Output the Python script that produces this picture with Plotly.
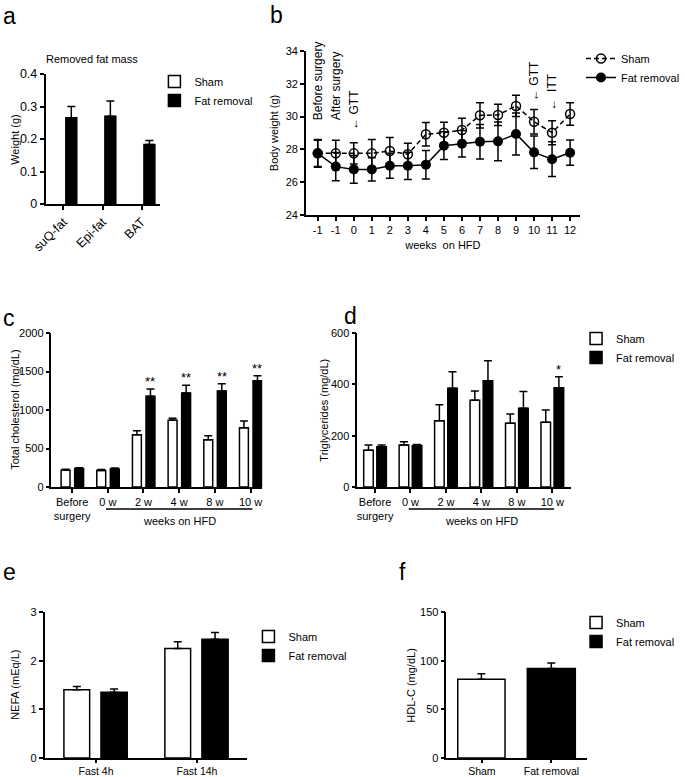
import plotly.graph_objects as go

W, H = 685, 777
FONT = "Liberation Sans, Arial, sans-serif"

# ---------------- data ----------------
# (a) removed fat mass
a_cats = ["suQ-fat", "Epi-fat", "BAT"]
a_sham = [None, None, None]
a_fat = [0.265, 0.27, 0.183]
a_fat_err = [0.035, 0.047, 0.012]

# (b) body weight
b_labels = ["-1", "-1", "0", "1", "2", "3", "4", "5", "6", "7", "8", "9", "10", "11", "12"]
b_sham = [27.76, 27.76, 27.76, 27.76, 27.9, 27.7, 28.92, 29.02, 29.18, 30.08, 30.1, 30.65, 29.69, 29.02, 30.16]
b_sham_err = [0.85, 0.8, 0.65, 0.85, 0.82, 0.67, 0.72, 0.63, 0.72, 0.77, 0.65, 0.65, 0.75, 0.73, 0.69]
b_fat = [27.76, 26.95, 26.78, 26.78, 27.0, 27.0, 27.07, 28.23, 28.35, 28.47, 28.49, 28.94, 27.82, 27.4, 27.8]
b_fat_err = [0.8, 0.86, 0.85, 0.71, 0.76, 0.83, 0.87, 0.84, 0.81, 1.05, 1.18, 1.28, 0.99, 1.06, 0.77]
b_events = [("Before surgery", 0), ("After surgery", 1), ("\u2190 GTT", 2), ("\u2190 GTT", 12), ("\u2190  ITT", 13)]

# (c) total cholesterol
cd_cats = ["Before<br>surgery", "0 w", "2 w", "4 w", "8 w", "10 w"]
c_sham = [218, 215, 680, 866, 615, 771]
c_sham_err = [12, 12, 52, 26, 52, 86]
c_fat = [240, 235, 1177, 1221, 1247, 1381]
c_fat_err = [10, 12, 96, 99, 95, 65]
c_stars = ["", "", "**", "**", "**", "**"]

# (d) triglycerides
d_sham = [143, 164, 258, 338, 248, 252]
d_sham_err = [21, 12, 62, 36, 36, 48]
d_fat = [157, 162, 385, 414, 307, 387]
d_fat_err = [7, 4, 64, 78, 65, 43]
d_stars = ["", "", "", "", "", "*"]

# (e) NEFA
e_cats = ["Fast 4h", "Fast 14h"]
e_sham = [1.40, 2.25]
e_sham_err = [0.07, 0.14]
e_fat = [1.35, 2.44]
e_fat_err = [0.07, 0.14]

# (f) HDL-C
f_cats = ["Sham", "Fat removal"]
f_vals = [80.8, 92.0]
f_errs = [5.8, 5.5]

SERIES = ["Sham", "Fat removal"]


# ---------------- helpers ----------------
def px(x):
    return x / W


def py(y):
    return 1 - y / H


def xdom(l, r):
    return [px(l), px(r)]


def ydom(t, b):
    return [py(b), py(t)]


def err(arr):
    return dict(type="data", array=arr, arrayminus=[0] * len(arr), symmetric=False,
                color="black", thickness=1.5, width=4)


def bar(name, x, y, e, fill, xa, ya, offset, width, legend, showlegend=True):
    return go.Bar(name=name, x=x, y=y, error_y=err(e) if e is not None else None,
                  marker=dict(color=fill, line=dict(color="black", width=1.5)),
                  xaxis=xa, yaxis=ya, offset=offset, width=width,
                  legend=legend, showlegend=showlegend)


fig = go.Figure()

# (a)
fig.add_trace(bar(SERIES[0], a_cats, a_sham, None, "white", "x", "y", -0.34, 0.28, "legend"))
fig.add_trace(bar(SERIES[1], a_cats, a_fat, a_fat_err, "black", "x", "y", 0.06, 0.28, "legend"))

# (b)
bx = list(range(len(b_labels)))
fig.add_trace(go.Scatter(name=SERIES[0], x=bx, y=b_sham, mode="lines+markers",
                         line=dict(color="black", width=1.5, dash="5px,3px"),
                         marker=dict(symbol="circle-open", size=9, color="black", line=dict(width=1.5)),
                         error_y=dict(type="data", array=b_sham_err, color="black", thickness=1.5, width=4),
                         xaxis="x2", yaxis="y2", legend="legend5"))
fig.add_trace(go.Scatter(name=SERIES[1], x=bx, y=b_fat, mode="lines+markers",
                         line=dict(color="black", width=1.5),
                         marker=dict(symbol="circle", size=10, color="black"),
                         error_y=dict(type="data", array=b_fat_err, color="black", thickness=1.5, width=4),
                         xaxis="x2", yaxis="y2", legend="legend5"))

# (c)
fig.add_trace(bar(SERIES[0], cd_cats, c_sham, c_sham_err, "white", "x3", "y3", -0.31, 0.25, "legend", False))
fig.add_trace(bar(SERIES[1], cd_cats, c_fat, c_fat_err, "black", "x3", "y3", 0.07, 0.25, "legend", False))

# (d)
fig.add_trace(bar(SERIES[0], cd_cats, d_sham, d_sham_err, "white", "x4", "y4", -0.32, 0.27, "legend2"))
fig.add_trace(bar(SERIES[1], cd_cats, d_fat, d_fat_err, "black", "x4", "y4", 0.05, 0.27, "legend2"))

# (e)
fig.add_trace(bar(SERIES[0], e_cats, e_sham, e_sham_err, "white", "x5", "y5", -0.318, 0.255, "legend3"))
fig.add_trace(bar(SERIES[1], e_cats, e_fat, e_fat_err, "black", "x5", "y5", 0.049, 0.26, "legend3"))

# (f)
fig.add_trace(bar(SERIES[0], [f_cats[0]], [f_vals[0]], [f_errs[0]], "white", "x6", "y6", -0.347, 0.68, "legend4"))
fig.add_trace(bar(SERIES[1], [f_cats[1]], [f_vals[1]], [f_errs[1]], "black", "x6", "y6", -0.347, 0.69, "legend4"))

# ---------------- axes ----------------
common = dict(showline=True, linecolor="black", linewidth=1.5, ticks="outside", ticklen=4,
              tickwidth=1.5, tickcolor="black", showgrid=False, zeroline=False, automargin=False,
              tickfont=dict(size=11, color="black", family=FONT))
bigtick = dict(size=12.5, color="black", family=FONT)
smalltick = dict(size=10.5, color="black", family=FONT)

layout = dict(
    xaxis=dict(common, domain=xdom(46, 162), type="category", range=[-0.46, 2.48], tickangle=-45,
               anchor="y", tickfont=bigtick),
    yaxis=dict(common, domain=ydom(74, 204), range=[0, 0.4], dtick=0.1, anchor="x", tickfont=bigtick),
    xaxis2=dict(common, domain=xdom(309, 586), range=[-0.66, 14.55], tickvals=bx, ticktext=b_labels,
                anchor="y2", title=dict(text="weeks  on HFD", font=dict(size=11, color="black", family=FONT),
                                        standoff=6)),
    yaxis2=dict(common, domain=ydom(51, 215), range=[24, 34], dtick=2, anchor="x2"),
    xaxis3=dict(common, domain=xdom(52, 265), type="category", range=[-0.58, 5.33], anchor="y3"),
    yaxis3=dict(common, domain=ydom(333, 487), range=[0, 2000], dtick=500, tickformat="d", anchor="x3"),
    xaxis4=dict(common, domain=xdom(361, 577), type="category", range=[-0.5, 5.53], anchor="y4"),
    yaxis4=dict(common, domain=ydom(333, 487), range=[0, 600], dtick=200, anchor="x4"),
    xaxis5=dict(common, domain=xdom(45, 250), type="category", range=[-0.51, 1.5], anchor="y5",
                ticklen=3, tickfont=smalltick),
    yaxis5=dict(common, domain=ydom(612, 758), range=[0, 3], dtick=1, anchor="x5"),
    xaxis6=dict(common, domain=xdom(451, 593), type="category", categoryorder="array",
                categoryarray=f_cats, range=[-0.51, 1.51], anchor="y6", ticklen=3, tickfont=smalltick),
    yaxis6=dict(common, domain=ydom(612, 758), range=[0, 150], dtick=50, anchor="x6"),
)

leg = lambda x, y: dict(x=px(x), y=py(y), xanchor="left", yanchor="top", bgcolor="rgba(0,0,0,0)",
                        font=dict(size=11, color="black", family=FONT), tracegroupgap=0, itemwidth=30)
layout.update(
    legend=leg(156, 67),
    legend2=leg(582, 324),
    legend3=leg(251, 622),
    legend4=leg(582, 608),
    legend5=leg(587, 44),
)

annotations = []
TXT = dict(color="black", family=FONT)
# panel letters
for letter, x, y in [("a", 1, 16), ("b", 271, 15), ("c", 1, 318), ("d", 346, 316), ("e", 1, 572), ("f", 401, 572)]:
    annotations.append(dict(text=letter, x=px(x), y=py(y), xref="paper", yref="paper", xanchor="left",
                            yanchor="middle", showarrow=False, font=dict(TXT, size=23)))
# y-axis titles
for t, x, y in [("Weight (g)", 15, 139), ("Body weight (g)", 277, 133), ("Total cholesterol (mg/dL)", 15, 410),
                ("Triglycerides (mg/dL)", 327, 410), ("NEFA (mEq/L)", 15, 685), ("HDL-C (mg/dL)", 415, 685)]:
    annotations.append(dict(text=t, x=px(x), y=py(y), xref="paper", yref="paper", xanchor="center",
                            yanchor="middle", textangle=-90, showarrow=False, font=dict(TXT, size=11)))
# title of a
annotations.append(dict(text="Removed fat mass", x=px(93), y=py(59), xref="paper", yref="paper",
                        xanchor="center", yanchor="middle", showarrow=False, font=dict(TXT, size=11)))
# b event labels
b_event_bottoms = [29.67, 29.67, 29.06, 30.83, 30.22]
for (txt, idx), yb in zip(b_events, b_event_bottoms):
    annotations.append(dict(text=txt, x=idx, y=yb, xref="x2", yref="y2", textangle=-90, xanchor="center",
                            yanchor="bottom", showarrow=False, font=dict(TXT, size=12)))
# stars c/d
for i, s in enumerate(c_stars):
    if s:
        annotations.append(dict(text=s, x=i + 0.07 + 0.125, y=c_fat[i] + c_fat_err[i], xref="x3", yref="y3",
                                xanchor="center", yanchor="bottom", showarrow=False, yshift=-2,
                                font=dict(TXT, size=13)))
for i, s in enumerate(d_stars):
    if s:
        annotations.append(dict(text=s, x=i + 0.05 + 0.135, y=d_fat[i] + d_fat_err[i], xref="x4", yref="y4",
                                xanchor="center", yanchor="bottom", showarrow=False, yshift=-2,
                                font=dict(TXT, size=13)))
# "weeks on HFD" under c / d
shapes = []
for xa in ["x3", "x4"]:
    shapes.append(dict(type="line", xref=xa, yref="paper", x0=0.95, x1=5.05, y0=py(509), y1=py(509),
                       line=dict(color="black", width=1.5)))
    annotations.append(dict(text="weeks on HFD", x=3, y=py(521), xref=xa, yref="paper", showarrow=False,
                            xanchor="center", yanchor="middle", font=dict(TXT, size=11)))

layout.update(annotations=annotations, shapes=shapes)

fig.update_layout(**layout)
fig.update_layout(width=W, height=H, autosize=False, margin=dict(l=0, r=0, t=0, b=0),
                  plot_bgcolor="white", paper_bgcolor="white", barmode="group",
                  font=dict(family=FONT, color="black", size=11))

post = """
document.documentElement.style.margin='0px';
document.body.style.margin='0px';
document.documentElement.style.overflow='hidden';
document.body.style.overflow='hidden';
var gd = document.getElementById('{plot_id}');
var w = document.documentElement.clientWidth || window.innerWidth;
var h = document.documentElement.clientHeight || window.innerHeight;
if (w && h && (Math.abs(w - %d) > 1 || Math.abs(h - %d) > 1)) {
  gd.style.width = w + 'px'; gd.style.height = h + 'px';
  Plotly.relayout(gd, {width: w, height: h});
}
""" % (W, H)

fig.write_html("out.html", config={"displayModeBar": False}, post_script=post)
